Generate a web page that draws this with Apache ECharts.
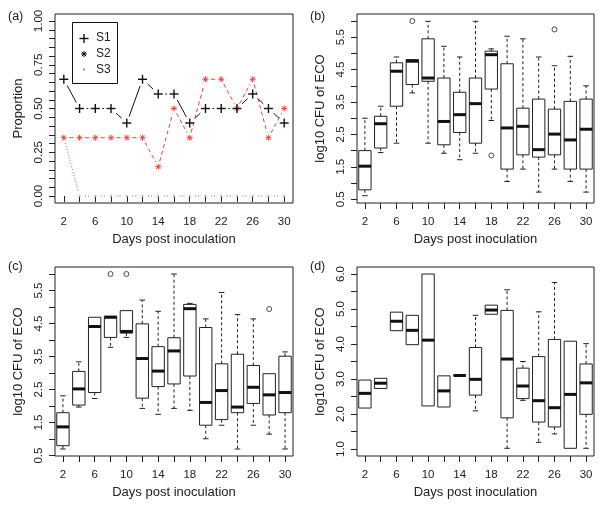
<!DOCTYPE html>
<html><head><meta charset="utf-8">
<script src="https://cdn.jsdelivr.net/npm/echarts@6/dist/echarts.min.js"></script>
<style>html,body{margin:0;padding:0;background:#fff}#c{width:601px;height:510px}</style>
</head><body><div id="c"></div>
<script>
// ---------- data ----------
const days = [2,4,6,8,10,12,14,16,18,20,22,24,26,28,30];
const dayLabels = ['2','4','6','8','10','12','14','16','18','20','22','24','26','28','30'];
const xLabelDays = [2,6,10,14,18,22,26,30];
// panel (a): proportions
const propS1 = [0.667,0.5,0.5,0.5,0.417,0.667,0.583,0.583,0.417,0.5,0.5,0.5,0.583,0.5,0.417];
const propS2 = [0.333,0.333,0.333,0.333,0.333,0.333,0.167,0.5,0.333,0.667,0.667,0.5,0.667,0.333,0.5];
const propS3 = [0.333,0,0,0,0,0,0,0,0,0,0,0,0,0,0];
const aYTicks = [0,0.05,0.1,0.15,0.2,0.25,0.3,0.35,0.4,0.45,0.5,0.55,0.6,0.65,0.7,0.75,0.8,0.85,0.9,0.95,1];
const aYLabels = [0,0.25,0.5,0.75,1];
// boxplots: [lower whisker, Q1, median, Q3, upper whisker]
const boxB = [
 [0.61,0.79,1.52,2.00,3.00],[1.94,2.08,2.83,3.06,3.37],[2.23,3.37,4.45,4.71,4.89],
 [3.78,4.04,4.76,4.81,4.81],[2.23,4.14,4.24,5.45,5.99],[1.92,2.18,2.90,4.24,5.22],
 [1.72,2.56,3.11,3.80,4.89],[1.92,2.23,3.45,4.24,5.99],[2.93,3.90,4.96,5.07,5.14],
 [1.05,1.43,2.70,4.68,5.53],[1.43,1.87,2.75,3.31,5.45],[0.72,1.80,2.03,3.59,4.89],
 [1.43,1.87,2.51,3.28,4.62],[1.05,1.43,2.33,3.52,4.91],[0.72,1.43,2.66,3.59,4.00]
];
const outB = [[3,6.0],[8,1.85],[12,5.74]];
const boxC = [
 [0.70,0.80,1.37,1.80,2.31],[1.97,2.03,2.52,3.05,3.34],[2.23,2.41,4.41,4.69,4.69],
 [3.78,4.08,4.69,4.72,4.72],[4.08,4.21,4.26,4.89,4.89],[1.93,2.24,3.44,4.49,5.21],
 [1.75,2.59,3.06,3.80,4.87],[1.93,2.67,3.67,4.07,6.00],[1.87,2.91,4.95,5.08,5.11],
 [1.01,1.42,2.11,4.38,4.64],[1.42,1.59,2.47,3.28,5.44],[0.70,1.80,1.97,3.57,4.77],
 [1.42,2.08,2.57,3.23,4.64],[1.15,1.73,2.34,2.98,2.98],[0.70,1.80,2.41,3.51,3.64]
];
const outC = [[3,6.0],[4,6.0],[13,4.94]];
const boxD = [
 [2.17,2.17,2.59,2.97,2.97],[2.73,2.73,2.88,3.02,3.02],[4.38,4.38,4.65,4.91,4.91],
 [3.98,3.98,4.39,4.82,4.82],[2.23,2.23,4.11,6.00,6.00],[2.20,2.20,2.66,3.09,3.09],
 [3.10,3.10,3.10,3.10,3.10],[2.09,2.54,2.99,3.90,4.82],[4.85,4.85,4.97,5.11,5.11],
 [1.02,1.89,3.57,4.96,5.55],[2.39,2.44,2.80,3.31,3.50],[1.19,1.77,2.38,3.64,4.92],
 [1.43,1.63,2.18,4.13,5.76],[1.02,1.02,2.56,4.08,4.08],[1.02,1.99,2.89,3.43,4.01]
];
const outD = [];
const bcYTicks = [0.5,1,1.5,2,2.5,3,3.5,4,4.5,5,5.5,6];
const bcYLabels = [0.5,1.5,2.5,3.5,4.5,5.5];
const dYTicks = [1,1.5,2,2.5,3,3.5,4,4.5,5,5.5,6];
const dYLabels = [1,2,3,4,5,6];

// ---------- styling helpers ----------
const FONT = 'Liberation Sans, Arial, sans-serif';
const INK = '#222';
const RED = '#e8453c';
const GREEN = '#3f9a3f';

function yAxisCfg(gi, min, max, ticks, labels, name, dec) {
  return {
    type: 'value', gridIndex: gi, min: min, max: max,
    axisLine: {show: false}, splitLine: {show: false},
    axisTick: {show: true, customValues: ticks, length: 6, lineStyle: {color: INK}},
    axisLabel: {customValues: labels, rotate: 90, margin: 10, fontSize: 11.5, color: INK, fontFamily: FONT,
      formatter: v => Number(v).toFixed(dec)},
    name: name, nameLocation: 'middle', nameRotate: 90, nameGap: 30,
    nameTextStyle: {fontSize: 13, color: INK, fontFamily: FONT}
  };
}
function xCatCfg(gi) {
  return {
    type: 'category', gridIndex: gi, data: dayLabels, boundaryGap: true,
    axisLine: {show: false}, splitLine: {show: false},
    axisTick: {show: true, alignWithLabel: true, interval: 0, length: 6, lineStyle: {color: INK}},
    axisLabel: {interval: 1, margin: 13, fontSize: 11.5, color: INK, fontFamily: FONT},
    name: 'Days post inoculation', nameLocation: 'middle', nameGap: 30,
    nameTextStyle: {fontSize: 13, color: INK, fontFamily: FONT}
  };
}
function xValCfg(gi) {
  return {
    type: 'value', gridIndex: gi, min: 0.88, max: 31.12,
    axisLine: {show: false}, splitLine: {show: false},
    axisTick: {show: true, customValues: days, length: 6, lineStyle: {color: INK}},
    axisLabel: {customValues: xLabelDays, margin: 13, fontSize: 11.5, color: INK, fontFamily: FONT},
    name: 'Days post inoculation', nameLocation: 'middle', nameGap: 30,
    nameTextStyle: {fontSize: 13, color: INK, fontFamily: FONT}
  };
}

// ---------- panel (a) renderers ----------
function segRender(gap, style) {
  return function (params, api) {
    const p1 = api.coord([api.value(0), api.value(1)]);
    const p2 = api.coord([api.value(2), api.value(3)]);
    const dx = p2[0] - p1[0], dy = p2[1] - p1[1];
    const L = Math.hypot(dx, dy);
    if (L <= 2 * gap + 0.5) return null;
    const ux = dx / L, uy = dy / L;
    return {type: 'line', shape: {x1: p1[0] + ux * gap, y1: p1[1] + uy * gap, x2: p2[0] - ux * gap, y2: p2[1] - uy * gap}, style: style};
  };
}
function plusRender(params, api) {
  const p = api.coord([api.value(0), api.value(1)]), s = 4.5;
  const st = {stroke: '#111', lineWidth: 1.4};
  return {type: 'group', children: [
    {type: 'line', shape: {x1: p[0] - s, y1: p[1], x2: p[0] + s, y2: p[1]}, style: st},
    {type: 'line', shape: {x1: p[0], y1: p[1] - s, x2: p[0], y2: p[1] + s}, style: st}
  ]};
}
function starShape(cx, cy, s, color, w, z) {
  const st = {stroke: color, lineWidth: w};
  const d = s * 0.72;
  const els = [
    {type: 'line', shape: {x1: cx - s, y1: cy, x2: cx + s, y2: cy}, style: st},
    {type: 'line', shape: {x1: cx, y1: cy - s, x2: cx, y2: cy + s}, style: st},
    {type: 'line', shape: {x1: cx - d, y1: cy - d, x2: cx + d, y2: cy + d}, style: st},
    {type: 'line', shape: {x1: cx - d, y1: cy + d, x2: cx + d, y2: cy - d}, style: st}
  ];
  if (z !== undefined) els.forEach(e => { e.z = z; });
  return els;
}
function starRender(params, api) {
  const p = api.coord([api.value(0), api.value(1)]);
  return {type: 'group', children: starShape(p[0], p[1], 3, RED, 1)};
}
function dotRender(params, api) {
  const p = api.coord([api.value(0), api.value(1)]);
  return {type: 'rect', shape: {x: p[0] - 1, y: p[1] - 1, width: 2, height: 2}, style: {fill: '#b4bcb4'}};
}
function pairs(vals) {
  const out = [];
  for (let i = 0; i < days.length - 1; i++) out.push([days[i], vals[i], days[i + 1], vals[i + 1]]);
  return out;
}
function points(vals) { return days.map((d, i) => [d, vals[i]]); }

// ---------- boxplot renderer (R style) ----------
function boxRender(params, api) {
  const i = api.value(0);
  const lo = api.value(1), q1 = api.value(2), med = api.value(3), q3 = api.value(4), hi = api.value(5);
  const band = api.size([1, 0])[0];
  const bw = band * 0.78, sw = bw * 0.45;
  const cx = api.coord([i, med])[0];
  const y = v => api.coord([i, v])[1];
  const st = {stroke: INK, lineWidth: 1, fill: null};
  const dash = {stroke: INK, lineWidth: 1, lineDash: [3, 2.5]};
  const ch = [];
  if (q1 - lo > 1e-9) {
    ch.push({type: 'line', shape: {x1: cx, y1: y(q1), x2: cx, y2: y(lo)}, style: dash});
    ch.push({type: 'line', shape: {x1: cx - sw / 2, y1: y(lo), x2: cx + sw / 2, y2: y(lo)}, style: st});
  }
  if (hi - q3 > 1e-9) {
    ch.push({type: 'line', shape: {x1: cx, y1: y(q3), x2: cx, y2: y(hi)}, style: dash});
    ch.push({type: 'line', shape: {x1: cx - sw / 2, y1: y(hi), x2: cx + sw / 2, y2: y(hi)}, style: st});
  }
  ch.push({type: 'rect', shape: {x: cx - bw / 2, y: y(q3), width: bw, height: Math.max(0, y(q1) - y(q3))}, style: {stroke: INK, lineWidth: 1, fill: 'rgba(0,0,0,0)'}});
  ch.push({type: 'line', shape: {x1: cx - bw / 2, y1: y(med), x2: cx + bw / 2, y2: y(med)}, style: {stroke: '#111', lineWidth: 3}});
  return {type: 'group', children: ch};
}
function boxData(arr) { return arr.map((r, i) => [i].concat(r)); }
function boxSeries(gi, arr, outs) {
  return [
    {type: 'custom', xAxisIndex: gi, yAxisIndex: gi, renderItem: boxRender,
     encode: {x: 0, y: [1, 2, 3, 4, 5]}, data: boxData(arr), silent: true},
    {type: 'scatter', xAxisIndex: gi, yAxisIndex: gi, data: outs, symbol: 'circle', symbolSize: 5,
     itemStyle: {color: 'rgba(255,255,255,0)', borderColor: INK, borderWidth: 1}, silent: true}
  ];
}

const grids = [
  {left: 55, top: 14, width: 238, height: 189},
  {left: 357, top: 14, width: 237, height: 189},
  {left: 55, top: 267, width: 238, height: 189},
  {left: 357, top: 267, width: 237, height: 189}
].map(g => Object.assign({show: true, borderColor: INK, borderWidth: 1, backgroundColor: 'transparent'}, g));

const series = [
  {type: 'custom', name: 'S3', xAxisIndex: 0, yAxisIndex: 0, renderItem: segRender(5.5, {stroke: GREEN, lineWidth: 1, lineDash: [1, 2]}),
   encode: {x: [0, 2], y: [1, 3]}, data: pairs(propS3), silent: true},
  {type: 'custom', name: 'S1', xAxisIndex: 0, yAxisIndex: 0, renderItem: segRender(7, {stroke: '#111', lineWidth: 1}),
   encode: {x: [0, 2], y: [1, 3]}, data: pairs(propS1), silent: true},
  {type: 'custom', name: 'S2', xAxisIndex: 0, yAxisIndex: 0, renderItem: segRender(5.5, {stroke: RED, lineWidth: 1, lineDash: [4, 3]}),
   encode: {x: [0, 2], y: [1, 3]}, data: pairs(propS2), silent: true},
  {type: 'custom', name: 'S3', xAxisIndex: 0, yAxisIndex: 0, renderItem: dotRender, encode: {x: 0, y: 1}, data: points(propS3), silent: true},
  {type: 'custom', name: 'S2', xAxisIndex: 0, yAxisIndex: 0, renderItem: starRender, encode: {x: 0, y: 1}, data: points(propS2), silent: true},
  {type: 'custom', name: 'S1', xAxisIndex: 0, yAxisIndex: 0, renderItem: plusRender, encode: {x: 0, y: 1}, data: points(propS1), silent: true}
].concat(boxSeries(1, boxB, outB), boxSeries(2, boxC, outC), boxSeries(3, boxD, outD));

// legend of panel (a)
const lgX = 84;
const LZ = 110;
const legendGraphics = [
  {type: 'rect', shape: {x: 72.5, y: 22.5, width: 45, height: 61}, style: {stroke: '#111', lineWidth: 1, fill: '#fff'}, z: 100},
  {type: 'line', z: LZ, shape: {x1: lgX - 4.5, y1: 38.5, x2: lgX + 4.5, y2: 38.5}, style: {stroke: '#111', lineWidth: 1.4}},
  {type: 'line', z: LZ, shape: {x1: lgX, y1: 34, x2: lgX, y2: 43}, style: {stroke: '#111', lineWidth: 1.4}}
].concat(starShape(lgX, 54, 3, '#111', 1, LZ), [
  {type: 'rect', z: LZ, shape: {x: lgX - 1, y: 68.5, width: 2, height: 2}, style: {fill: '#7aa37a'}},
  {type: 'text', left: 96, top: 32, z: LZ, style: {text: 'S1', fontSize: 12, fill: INK, fontFamily: FONT}},
  {type: 'text', left: 96, top: 48, z: LZ, style: {text: 'S2', fontSize: 12, fill: INK, fontFamily: FONT}},
  {type: 'text', left: 96, top: 64, z: LZ, style: {text: 'S3', fontSize: 12, fill: INK, fontFamily: FONT}},
  {type: 'text', left: 8, top: 10, style: {text: '(a)', fontSize: 12.5, fill: INK, fontFamily: FONT}},
  {type: 'text', left: 310, top: 10, style: {text: '(b)', fontSize: 12.5, fill: INK, fontFamily: FONT}},
  {type: 'text', left: 8, top: 260, style: {text: '(c)', fontSize: 12.5, fill: INK, fontFamily: FONT}},
  {type: 'text', left: 310, top: 260, style: {text: '(d)', fontSize: 12.5, fill: INK, fontFamily: FONT}}
]);

const chart = echarts.init(document.getElementById('c'), null, {renderer: 'canvas'});
chart.setOption({
  animation: false,
  backgroundColor: '#fff',
  grid: grids,
  xAxis: [xValCfg(0), xCatCfg(1), xCatCfg(2), xCatCfg(3)],
  yAxis: [
    yAxisCfg(0, -0.04, 1.04, aYTicks, aYLabels, 'Proportion', 2),
    yAxisCfg(1, 0.384, 6.216, bcYTicks, bcYLabels, 'log10 CFU of ECO', 1),
    yAxisCfg(2, 0.488, 6.212, bcYTicks, bcYLabels, 'log10 CFU of ECO', 1),
    yAxisCfg(3, 0.8, 6.2, dYTicks, dYLabels, 'log10 CFU of ECO', 1)
  ],
  graphic: legendGraphics,
  series: series
});
</script>
</body></html>
